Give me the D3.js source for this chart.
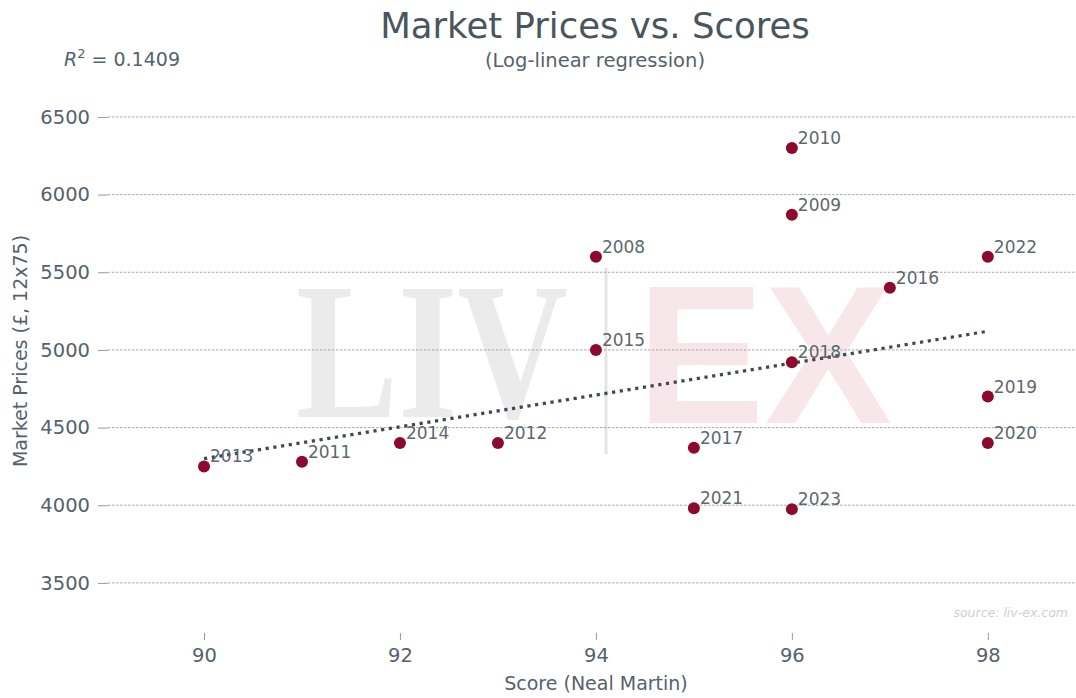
<!DOCTYPE html>
<html>
<head>
<meta charset="utf-8">
<script src="https://cdn.jsdelivr.net/npm/d3@7"></script>
<style>
  body { margin: 0; background: #fff; }
  svg { display: block; font-family: "DejaVu Sans", sans-serif; }
</style>
</head>
<body>
<svg id="chart" width="1076" height="698"></svg>
<script>
// vintages, Neal Martin scores and 12x75 market prices
var years  = ["2008","2009","2010","2011","2012","2013","2014","2015","2016","2017","2018","2019","2020","2021","2022","2023"];
var scores = [94, 96, 96, 91, 93, 90, 92, 94, 97, 95, 96, 98, 98, 95, 98, 96];
var prices = [5600, 5870, 6300, 4280, 4400, 4250, 4400, 5000, 5400, 4370, 4920, 4700, 4400, 3980, 5600, 3975];

var xTicks = [90, 92, 94, 96, 98];
var yTicks = [3500, 4000, 4500, 5000, 5500, 6000, 6500];

// log-linear trend, ends
var trendScores = [90, 98];
var trendPrices = [4300, 5120];

var rSquared = "0.1409";

var textCol = "#56626b";
var pointCol = "#8b0a2d";

var svg = d3.select("#chart");

var x = d3.scaleLinear().domain([89.02, 98.9]).range([108, 1076]);
var y = d3.scaleLinear().domain([3200, 6640]).range([629.5, 95.2]);

// watermark
var wm = svg.append("g").attr("class", "watermark");
wm.append("text")
  .attr("x", 296).attr("y", 417)
  .attr("font-family", "Liberation Serif, serif")
  .attr("font-weight", "bold")
  .attr("font-size", 195)
  .attr("textLength", 272).attr("lengthAdjust", "spacingAndGlyphs")
  .attr("fill", "#ebebeb")
  .text("LIV");
wm.append("line")
  .attr("x1", 606).attr("x2", 606)
  .attr("y1", 268).attr("y2", 454)
  .attr("stroke", "#e4e4e4").attr("stroke-width", 3);
wm.append("text")
  .attr("x", 637).attr("y", 423)
  .attr("font-family", "Liberation Sans, sans-serif")
  .attr("font-weight", "bold")
  .attr("font-size", 197)
  .attr("textLength", 255).attr("lengthAdjust", "spacingAndGlyphs")
  .attr("fill", "#f7e7ea")
  .text("EX");

// y axis with grid
var yAxis = d3.axisLeft(y).tickValues(yTicks).tickSize(10).tickPadding(8).tickFormat(d3.format("d"));
var gy = svg.append("g")
  .attr("transform", "translate(108,0)")
  .call(yAxis);
gy.select(".domain").remove();
gy.selectAll(".tick line").attr("stroke", "#999").attr("stroke-width", 1);
gy.selectAll(".tick text")
  .attr("fill", textCol)
  .attr("font-size", 19.5)
  .attr("font-family", "DejaVu Sans");

svg.append("g").selectAll("line")
  .data(yTicks)
  .enter().append("line")
  .attr("x1", 108).attr("x2", 1076)
  .attr("y1", function(d){ return y(d); })
  .attr("y2", function(d){ return y(d); })
  .attr("stroke", "#a9a9a9")
  .attr("stroke-width", 1)
  .attr("stroke-dasharray", "2.5,1.5");

// x axis
var xAxis = d3.axisBottom(x).tickValues(xTicks).tickSize(7).tickPadding(8);
var gx = svg.append("g")
  .attr("transform", "translate(0,633)")
  .call(xAxis);
gx.select(".domain").remove();
gx.selectAll(".tick line").attr("stroke", "#999");
gx.selectAll(".tick text")
  .attr("fill", textCol)
  .attr("font-size", 19.5)
  .attr("font-family", "DejaVu Sans");

// trend line
var line = d3.line()
  .x(function(d){ return x(d[0]); })
  .y(function(d){ return y(d[1]); });
svg.append("path")
  .datum(d3.zip(trendScores, trendPrices))
  .attr("fill", "none")
  .attr("stroke", "#3e4a51")
  .attr("stroke-width", 3.2)
  .attr("stroke-dasharray", "3.2,4.6")
  .attr("d", line);

// points
var pts = d3.range(years.length);
svg.append("g").selectAll("circle")
  .data(pts)
  .enter().append("circle")
  .attr("cx", function(i){ return x(scores[i]); })
  .attr("cy", function(i){ return y(prices[i]); })
  .attr("r", 6)
  .attr("fill", pointCol);

svg.append("g").selectAll("text")
  .data(pts)
  .enter().append("text")
  .attr("x", function(i){ return x(scores[i]) + 6; })
  .attr("y", function(i){ return y(prices[i]) - 4; })
  .attr("font-size", 17)
  .attr("fill", "#5e686e")
  .text(function(i){ return years[i]; });

// titles
svg.append("text")
  .attr("x", 595).attr("y", 38)
  .attr("text-anchor", "middle")
  .attr("font-size", 35.5)
  .attr("fill", "#4a555e")
  .text("Market Prices vs. Scores");
svg.append("text")
  .attr("x", 595).attr("y", 67)
  .attr("text-anchor", "middle")
  .attr("font-size", 19.5)
  .attr("fill", textCol)
  .text("(Log-linear regression)");

var r2 = svg.append("text")
  .attr("x", 64).attr("y", 66)
  .attr("font-size", 19)
  .attr("fill", textCol);
r2.append("tspan").attr("font-style", "italic").text("R");
r2.append("tspan").attr("font-size", 13).attr("dy", -8).text("2");
r2.append("tspan").attr("dy", 8).text(" = " + rSquared);

// axis titles
svg.append("text")
  .attr("x", 596).attr("y", 690)
  .attr("text-anchor", "middle")
  .attr("font-size", 19)
  .attr("fill", textCol)
  .text("Score (Neal Martin)");
svg.append("text")
  .attr("transform", "translate(27,351) rotate(-90)")
  .attr("text-anchor", "middle")
  .attr("font-size", 19)
  .attr("fill", textCol)
  .text("Market Prices (£, 12x75)");

// source
svg.append("text")
  .attr("x", 1068).attr("y", 617)
  .attr("text-anchor", "end")
  .attr("font-size", 12.5)
  .attr("font-style", "italic")
  .attr("fill", "#cfcfcf")
  .text("source: liv-ex.com");
</script>
</body>
</html>
